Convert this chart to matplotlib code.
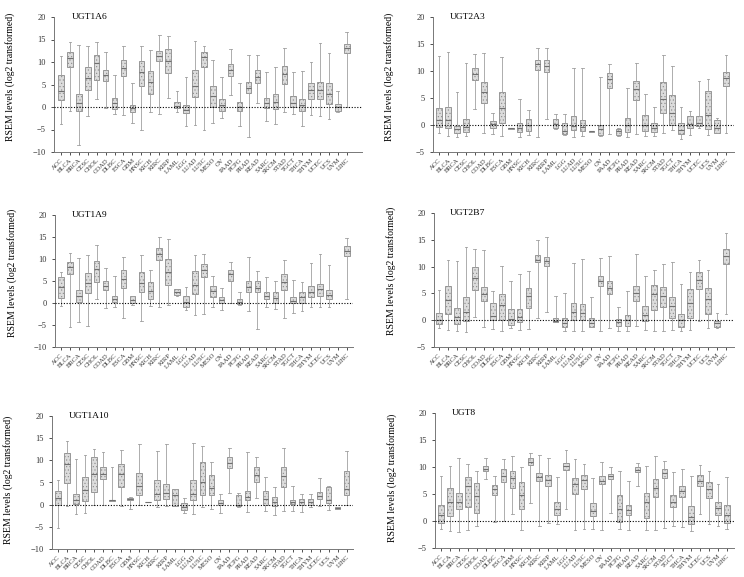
import matplotlib.pyplot as plt

# Типы опухолей TCGA (ось X)
cancers = ['ACC', 'BLCA', 'BRCA', 'CESC', 'CHOL', 'COAD', 'DLBC', 'ESCA', 'GBM',
           'HNSC', 'KICH', 'KIRC', 'KIRP', 'LAML', 'LGG', 'LUAD', 'LUSC', 'MESO',
           'OV', 'PAAD', 'PCPG', 'PRAD', 'READ', 'SARC', 'SKCM', 'STAD', 'TGCT',
           'THCA', 'THYM', 'UCEC', 'UCS', 'UVM', 'LIHC']

# (нижний ус, Q1, медиана, Q3, верхний ус) для каждого типа опухоли
ugt1a6 = [(-3.7, 1.5, 3.6, 7.2, 11.3), (-0.8, 9.0, 11.0, 12.3, 14.5),
          (-8.5, -0.8, 0.8, 3.0, 13.8), (-2.1, 3.8, 6.5, 9.0, 13.6),
          (1.8, 6.0, 9.7, 11.6, 14.4), (-0.2, 5.8, 7.2, 8.2, 12.2),
          (-1.6, -0.4, 1.0, 1.9, 7.2), (-1.8, 6.8, 8.7, 10.5, 13.6),
          (-3.5, -1.0, -0.3, 0.5, 5.4), (-5.0, 4.7, 7.7, 10.3, 13.6),
          (-1.0, 2.8, 5.6, 7.9, 12.7), (-1.6, 10.3, 11.4, 12.5, 16.0),
          (2.0, 7.6, 10.2, 12.8, 15.7), (-1.0, -0.3, 0.3, 1.2, 3.6),
          (-4.3, -1.4, -0.6, 0.4, 6.6), (-3.9, 2.3, 4.7, 8.3, 14.6),
          (-5.0, 9.0, 11.1, 12.2, 13.6), (-3.5, 0.0, 2.5, 4.7, 10.4),
          (-2.4, -0.8, 0.5, 1.7, 6.7), (2.7, 7.0, 8.3, 9.5, 12.8),
          (-4.3, -0.9, 0.1, 1.1, 5.4), (-6.6, 3.1, 4.3, 5.6, 11.6),
          (1.0, 5.4, 6.7, 8.3, 11.6), (-3.2, -0.2, 0.9, 2.0, 7.8),
          (-3.7, -0.4, 1.1, 3.0, 8.9), (-1.0, 5.2, 7.4, 9.2, 13.2),
          (-1.5, 0.0, 0.8, 2.5, 7.7), (-4.3, -0.8, 0.5, 1.8, 8.0),
          (-1.8, 1.7, 3.8, 5.4, 10.0), (-2.0, 1.8, 3.8, 5.6, 14.2),
          (-2.7, 0.6, 2.9, 5.4, 12.1), (-1.2, -0.8, 0.0, 0.6, 3.6),
          (0.0, 12.0, 13.1, 14.0, 16.7)]

ugt2a3 = [(-1.5, -0.4, 0.9, 3.1, 12.8), (-2.0, -0.6, 1.0, 3.4, 13.5),
          (-2.2, -1.5, -0.8, -0.1, 6.1), (-2.0, -1.3, -0.4, 1.1, 11.5),
          (3.0, 8.4, 9.5, 10.6, 13.1), (-1.4, 4.0, 6.1, 8.0, 13.3),
          (-1.7, -0.5, 0.2, 0.8, 2.3), (-2.1, 0.3, 3.1, 6.2, 12.6),
          (-0.7, -0.7, -0.6, -0.5, -0.5), (-2.2, -1.3, -0.6, 0.3, 4.8),
          (-1.8, -1.1, 0.0, 1.1, 2.7), (-2.3, 10.2, 11.3, 12.0, 14.2),
          (1.2, 9.9, 11.0, 12.1, 14.3), (-0.8, -0.5, 0.2, 1.1, 2.0),
          (-1.8, -1.6, -1.1, 0.3, 2.0), (-2.2, -1.0, -0.2, 1.6, 10.5),
          (-2.1, -1.2, -0.3, 0.9, 10.5), (-1.3, -1.3, -1.2, -1.1, -1.1),
          (-2.0, -1.8, -0.8, 0.0, 8.9), (-1.6, 6.8, 8.5, 9.6, 11.3),
          (-2.0, -1.8, -1.2, -0.8, -0.5), (-2.2, -1.3, 0.0, 1.3, 6.8),
          (-1.6, 4.7, 6.6, 8.1, 11.4), (-2.0, -1.1, 0.0, 1.8, 5.8),
          (-2.0, -1.3, -0.6, 0.3, 3.4), (-1.4, 2.3, 4.9, 8.0, 13.0),
          (-1.0, 0.0, 2.3, 5.5, 10.9), (-2.6, -1.6, -0.9, 0.3, 3.3),
          (-1.8, -0.5, 0.1, 1.6, 2.6), (-0.6, -0.2, 0.4, 1.6, 8.2),
          (-1.8, -0.8, 1.8, 6.3, 8.6), (-1.5, -1.5, -0.6, 0.9, 1.3),
          (-1.5, 7.2, 8.7, 9.9, 13.0)]

ugt1a9 = [(-0.7, 1.2, 3.7, 5.8, 7.0), (-5.5, 6.6, 8.2, 9.4, 11.4),
          (-4.3, 0.3, 1.6, 3.0, 10.3), (-5.3, 2.2, 4.6, 6.8, 10.8),
          (0.8, 4.8, 7.7, 9.6, 13.2), (-1.1, 2.9, 3.9, 5.1, 7.9),
          (-0.8, 0.2, 0.8, 1.5, 6.1), (-3.5, 3.5, 5.4, 7.4, 10.5),
          (-0.5, 0.0, 0.6, 1.6, 1.6), (-4.1, 2.6, 4.5, 7.1, 10.9),
          (-0.6, 0.9, 2.8, 4.8, 7.6), (-0.9, 9.7, 11.1, 12.4, 15.0),
          (-0.5, 4.2, 7.1, 9.9, 14.6), (1.5, 1.8, 2.5, 3.1, 3.2),
          (-1.5, -1.0, 0.2, 1.6, 3.7), (-2.8, 2.0, 4.2, 7.2, 11.0),
          (-2.5, 6.0, 7.5, 8.8, 11.1), (-0.8, 1.4, 2.7, 3.9, 6.2),
          (-1.7, -0.1, 0.6, 1.3, 3.5), (-0.1, 5.0, 6.5, 7.6, 9.3),
          (-0.5, -0.3, 0.3, 0.9, 2.6), (-1.8, 2.4, 3.7, 5.0, 10.5),
          (-5.8, 2.4, 3.5, 4.9, 7.3), (-0.8, 0.8, 1.6, 2.5, 6.0),
          (-1.4, 0.0, 1.2, 2.5, 5.1), (-3.5, 3.0, 4.8, 6.6, 9.7),
          (-2.3, -0.1, 0.5, 1.3, 5.3), (-1.8, 0.0, 1.3, 2.4, 4.8),
          (-0.9, 1.3, 2.4, 3.8, 9.0), (-0.8, 1.6, 3.1, 4.3, 11.2),
          (-0.9, 0.9, 1.9, 2.9, 8.7), None,
          (0.8, 10.7, 11.8, 12.9, 14.8)]

ugt2b7 = [(-1.5, -0.8, 0.1, 1.3, 5.6), (-1.8, 1.2, 3.8, 6.3, 11.2),
          (-2.1, -0.8, 0.6, 2.3, 11.1), (-2.2, -0.1, 1.5, 4.4, 13.7),
          (0.6, 5.7, 7.8, 10.0, 13.3), (-1.3, 3.5, 4.9, 6.2, 13.1),
          (-1.6, 0.0, 0.8, 3.3, 5.5), (-2.0, 0.0, 2.9, 4.8, 10.1),
          (-1.5, -0.9, 0.3, 2.0, 7.4), (-1.8, -0.4, 0.6, 2.0, 8.7),
          (-1.6, 2.3, 4.6, 6.1, 9.2), (0.4, 10.8, 11.3, 12.2, 15.0),
          (1.6, 10.2, 11.0, 11.8, 15.6), (-0.4, -0.4, -0.1, 0.5, 4.5),
          (-2.0, -1.3, -0.6, 0.4, 5.1), (-2.0, 0.1, 1.6, 3.3, 10.6),
          (-2.0, 0.0, 1.4, 3.1, 11.4), (-1.3, -1.2, -0.6, 0.5, 4.4),
          (-2.0, 6.4, 7.3, 8.2, 11.6), (-1.5, 4.9, 6.1, 7.3, 12.0),
          (-2.0, -1.0, -0.4, 0.3, 2.4), (-2.0, -1.0, 0.0, 1.0, 5.5),
          (-1.1, 3.6, 5.1, 6.3, 12.4), (-1.8, -0.2, 0.9, 2.7, 8.3),
          (-2.0, 1.9, 4.8, 6.5, 9.3), (-2.0, 2.5, 4.6, 6.2, 10.4),
          (-1.8, 0.5, 2.6, 4.4, 10.9), (-2.0, -1.2, 0.0, 1.2, 6.8),
          (-1.8, 0.5, 3.3, 5.9, 9.0), (-0.2, 5.8, 7.5, 8.9, 11.3),
          (-1.5, 1.2, 3.9, 6.1, 9.4), (-1.5, -1.2, -0.6, -0.2, 1.3),
          (1.2, 10.5, 12.0, 13.3, 16.2)]

ugt1a10 = [(-5.3, 0.0, 1.6, 3.1, 5.6), (-0.3, 4.8, 9.2, 11.6, 14.4),
           (-2.1, 0.1, 1.0, 2.5, 10.3), (-1.8, 0.8, 3.2, 6.2, 11.3),
           (0.0, 2.8, 7.0, 10.7, 12.6), (0.0, 5.7, 7.0, 8.4, 11.9),
           (0.8, 0.9, 1.0, 1.1, 8.4), (-0.2, 3.9, 7.0, 9.1, 12.4),
           (-1.0, 1.1, 1.3, 1.5, 1.8), (0.0, 2.1, 4.3, 7.1, 13.6),
           (0.5, 0.5, 0.55, 0.6, 0.6), (-0.5, 1.0, 2.3, 5.5, 12.2),
           (-0.3, 1.2, 2.6, 4.7, 13.6), (-0.4, -0.3, 2.2, 3.5, 3.6),
           (-1.8, -1.3, -0.6, 0.3, 1.4), (-2.0, 1.0, 2.3, 5.5, 14.0),
           (-0.5, 2.1, 5.0, 9.6, 13.2), (-1.0, 2.1, 3.8, 6.8, 9.6),
           (-1.8, -0.1, 0.3, 1.0, 2.3), (2.7, 8.2, 9.4, 10.7, 12.7),
           (-0.5, -0.4, 0.0, 2.1, 2.7), (-1.6, 1.0, 1.8, 3.1, 11.9),
           (1.6, 5.2, 6.8, 8.4, 10.7), (-1.5, -0.1, 1.2, 3.1, 6.3),
           (-2.3, -0.2, 0.5, 1.7, 4.0), (-1.4, 3.9, 6.5, 8.4, 12.8),
           (-1.5, 0.1, 0.6, 1.0, 4.2), (-1.7, -0.1, 0.5, 1.2, 2.3),
           (-0.5, 0.0, 0.5, 1.2, 2.3), (-0.3, 1.3, 2.0, 2.8, 6.1),
           (-1.2, 0.4, 1.1, 3.9, 4.3), (-0.9, -0.9, -0.7, -0.5, -0.5),
           (0.0, 2.1, 3.6, 7.5, 12.2)]

ugt8 = [(-1.4, -0.3, 1.2, 2.9, 8.4), (-1.8, 0.9, 3.6, 6.2, 10.2),
        (-2.0, 2.2, 3.5, 5.2, 11.7), (-1.6, 2.6, 6.4, 8.1, 10.6),
        (-1.0, 1.4, 4.6, 7.1, 9.3), (7.8, 9.2, 9.7, 10.1, 11.6),
        (-0.2, 4.8, 5.9, 6.7, 8.4), (0.0, 7.2, 8.4, 9.6, 11.5),
        (1.3, 6.1, 7.9, 9.3, 12.0), (-1.6, 2.3, 4.8, 7.3, 10.0),
        (3.4, 10.4, 11.0, 11.7, 12.6), (-1.0, 7.4, 8.1, 8.8, 12.2),
        (-0.4, 6.4, 7.6, 8.6, 11.6), (-0.6, 1.1, 2.2, 3.5, 8.1),
        (2.2, 9.4, 10.1, 10.8, 13.1), (-1.7, 5.0, 6.8, 8.0, 11.4),
        (-1.5, 6.0, 7.6, 8.6, 10.6), (-1.5, 0.9, 1.8, 3.3, 7.9),
        (-1.6, 6.8, 7.5, 8.3, 10.9), (1.4, 7.7, 8.3, 8.7, 10.0),
        (-1.4, -0.2, 2.2, 4.8, 9.2), (-1.7, 1.2, 2.0, 2.9, 7.4),
        (6.4, 9.0, 9.5, 10.0, 10.8), (-1.6, 0.5, 3.5, 5.1, 10.1),
        (-1.6, 4.4, 6.2, 7.8, 12.0), (-1.3, 7.9, 8.8, 9.6, 11.2),
        (-0.9, 2.6, 3.6, 4.9, 9.1), (-1.1, 4.4, 5.5, 6.4, 9.7),
        (-1.8, -0.6, 0.7, 2.8, 8.3), (1.3, 6.4, 7.5, 8.5, 10.4),
        (-0.6, 4.2, 5.9, 7.3, 9.2), (-1.0, 1.1, 2.4, 3.6, 6.8),
        (-1.5, -0.3, 1.1, 2.9, 8.2)]

genes = ['UGT1A6', 'UGT2A3', 'UGT1A9', 'UGT2B7', 'UGT1A10', 'UGT8']
gene_data = [ugt1a6, ugt2a3, ugt1a9, ugt2b7, ugt1a10, ugt8]
y_bottoms = [-10, -5, -10, -5, -10, -5]

# Положение осей в пикселях: левый, правый, верх, низ
W, H = 744, 577
rects_px = [(54, 362, 17, 152), (433, 734, 17, 152),
            (55, 353, 215, 347), (434, 734, 213, 347),
            (52, 353, 416, 549), (435, 734, 413, 548)]
xlims = [(0.22, 34.7), (0.33, 33.9), (0.33, 33.7),
         (0.44, 33.9), (0.34, 33.7), (0.33, 33.8)]
label_y = [0.56, 0.56, 0.56, 0.57, 0.52, 0.52]

plt.rcParams['font.family'] = ['Liberation Serif', 'DejaVu Serif']
plt.rcParams['hatch.color'] = '#b0b0b0'
plt.rcParams['hatch.linewidth'] = 0.4

fig = plt.figure(figsize=(W / 100, H / 100), dpi=100)

for i in range(6):
    l, r, t, b = rects_px[i]
    ax = fig.add_axes([l / W, 1 - b / H, (r - l) / W, (b - t) / H])

    stats = []
    positions = []
    for j, row in enumerate(gene_data[i]):
        if row is None:
            continue
        lo, q1, med, q3, hi = row
        stats.append(dict(whislo=lo, q1=q1, med=med, q3=q3, whishi=hi, fliers=[]))
        positions.append(j + 1)

    ax.bxp(stats, positions=positions, widths=0.62, patch_artist=True,
           showfliers=False,
           boxprops=dict(facecolor='#dcdcdc', edgecolor='#8a8a8a',
                         linewidth=0.6, hatch='.....'),
           medianprops=dict(color='#707070', linewidth=0.8),
           whiskerprops=dict(color='#a0a0a0', linewidth=0.6),
           capprops=dict(color='#a0a0a0', linewidth=0.6))

    ax.axhline(0, color='black', linestyle=(0, (1, 1.5)), linewidth=0.8, zorder=5)

    ax.set_xlim(*xlims[i])
    ax.set_ylim(y_bottoms[i], 20)
    ax.set_yticks(range(y_bottoms[i], 21, 5))
    ax.set_xticks(range(1, len(cancers) + 1))
    ax.set_xticklabels(cancers, rotation=45, ha='right', rotation_mode='anchor',
                       fontsize=4.8)
    ax.tick_params(axis='y', labelsize=6, length=2.5, width=0.6, colors='#333333')
    ax.tick_params(axis='x', length=2.5, width=0.6, pad=1.5, colors='#333333')
    for s in ['top', 'right']:
        ax.spines[s].set_visible(False)
    for s in ['left', 'bottom']:
        ax.spines[s].set_color('#777777')
        ax.spines[s].set_linewidth(0.7)

    ax.set_ylabel('RSEM levels (log2 transformed)', fontsize=7)
    ax.yaxis.set_label_coords(-0.128, label_y[i])

    # Название гена внутри графика
    ax.text(2.2, 20, genes[i], fontsize=6.8, va='center', ha='left')

fig.savefig('out.png', dpi=100)
